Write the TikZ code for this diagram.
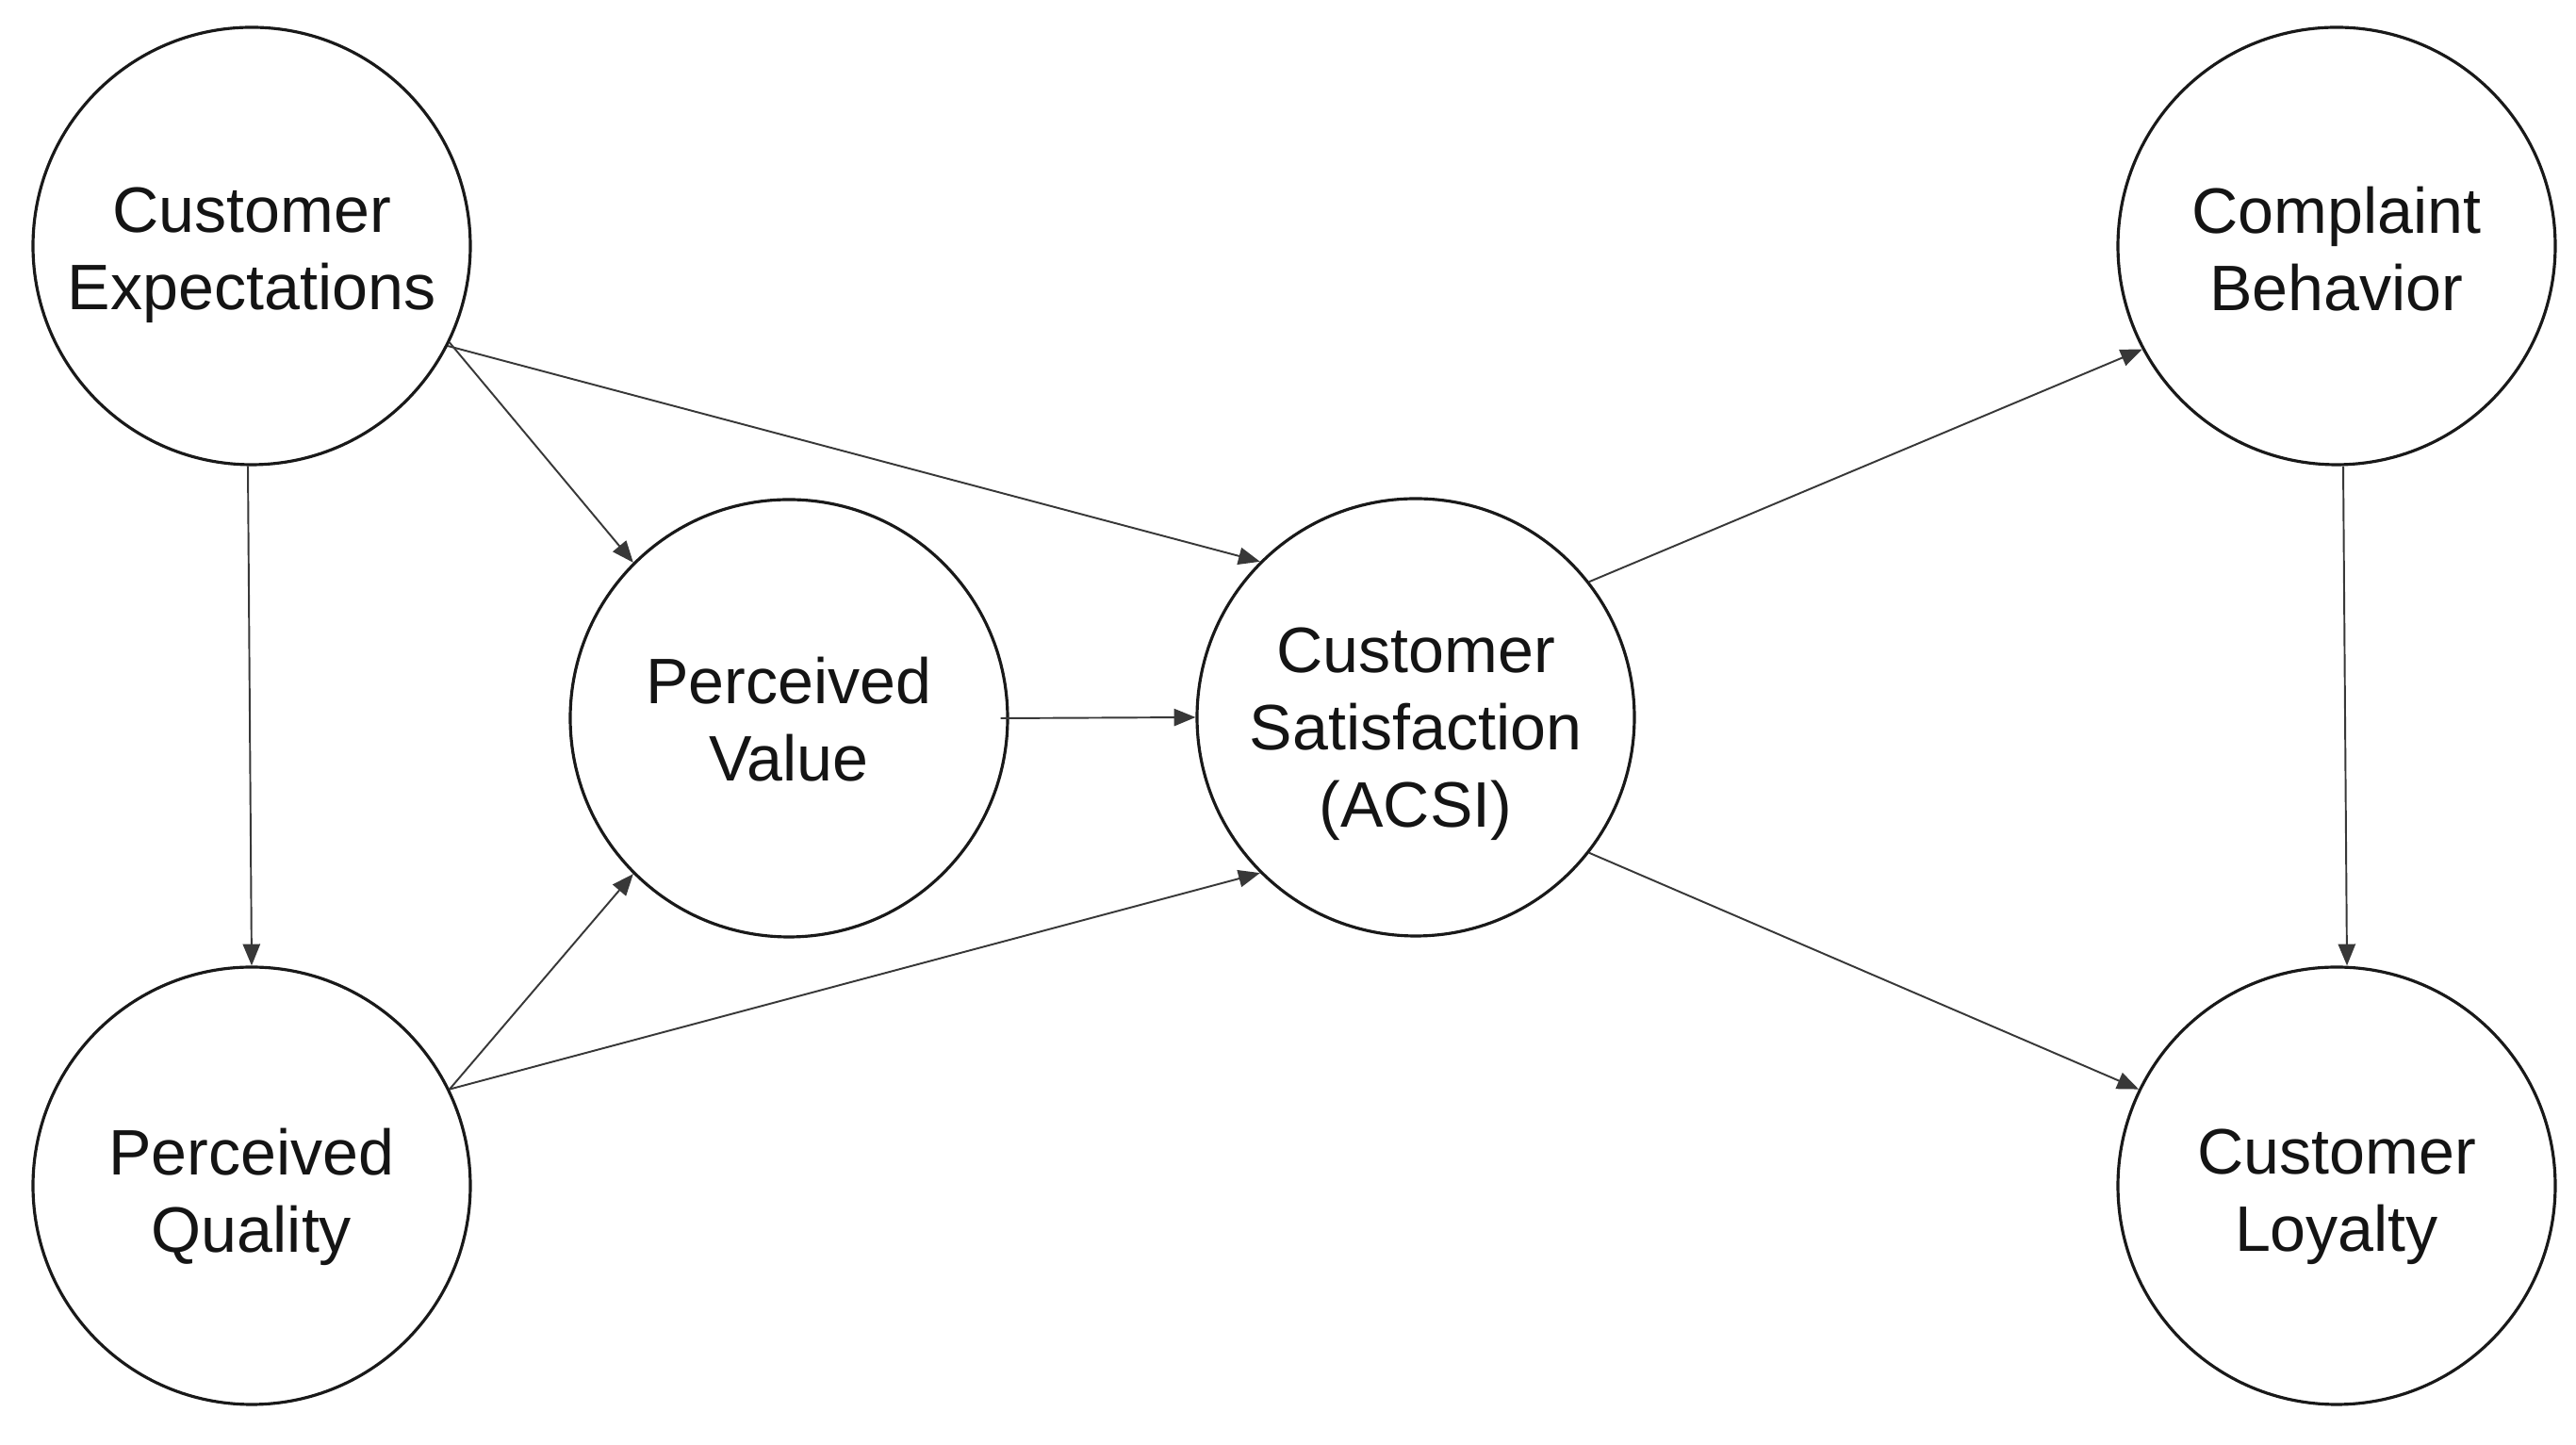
\documentclass[tikz,border=0pt]{standalone}
\usepackage{fontspec}
\setmainfont{Liberation Sans}
\usetikzlibrary{arrows.meta}
\begin{document}
\begin{tikzpicture}[
  construct/.style={circle, draw=black!90, line width=0.9pt, minimum size=4.64cm, inner sep=0pt},
  ctext/.style={align=center, inner sep=0pt, font=\fontsize{19.4}{23.3}\selectfont, text=black!92},
  link/.style={draw=black!78, line width=0.55pt, -{Triangle[length=6.5pt,width=5.2pt]}}
]
\useasboundingbox (0,0) rectangle (27.33,15.33);
\fill[white] (0,0) rectangle (27.33,15.33);
\node[construct] (ce) at (2.67,12.72) {};
\node[construct] (pq) at (2.67,2.75) {};
\node[construct] (pv) at (8.37,7.71) {};
\node[construct] (cs) at (15.02,7.72) {};
\node[construct] (cb) at (24.79,12.72) {};
\node[construct] (cl) at (24.79,2.75) {};

\node[ctext] (ce-t) at ([yshift=-0.10cm]ce.center) {Customer\\Expectations};
\node[ctext] (pq-t) at ([yshift=-0.12cm]pq.center) {Perceived\\Quality};
\node[ctext] (pv-t) at ([yshift=-0.01cm]pv.center) {Perceived\\Value};
\node[ctext] (cs-t) at ([yshift=-0.18cm]cs.center) {Customer\\Satisfaction\\(ACSI)};
\node[ctext] (cb-t) at ([yshift=-0.03cm]cb.center) {Complaint\\Behavior};
\node[ctext] (cl-t) at ([yshift=-0.12cm]cl.center) {Customer\\Loyalty};

\draw[link] ([xshift=-0.04cm]ce.south) -- (pq.north);
\draw[link] (ce.-26) -- (pv.135);
\draw[link] (ce.-27) -- (cs.135);
\draw[link] (pq.26) -- (pv.225);
\draw[link] (pq.26) -- (cs.225);
\draw[link] ([xshift=-0.09cm]pv.east) -- (cs.180);
\draw[link] (cs.38) -- (cb.208);
\draw[link] (cs.-38) -- (cl.154);
\draw[link] ([xshift=0.07cm]cb.south) -- ([xshift=0.11cm]cl.north);
\end{tikzpicture}
\end{document}
